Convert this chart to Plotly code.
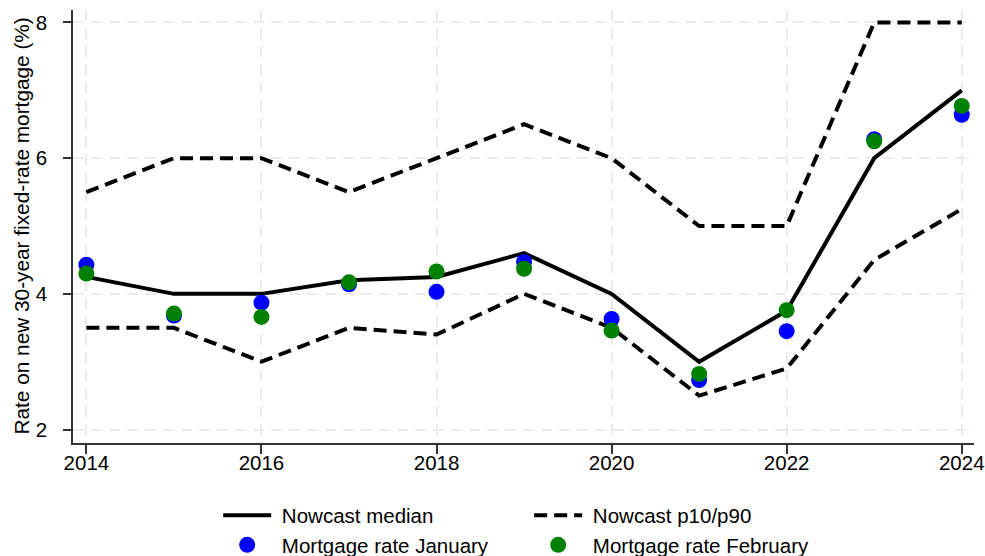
import plotly.graph_objects as go

# Survey years
years = [2014, 2015, 2016, 2017, 2018, 2019, 2020, 2021, 2022, 2023, 2024]

# Nowcast distribution of the 30-year fixed mortgage rate (%)
nowcast_median = [4.25, 4.0, 4.0, 4.2, 4.25, 4.6, 4.0, 3.0, 3.75, 6.0, 7.0]
nowcast_p90 = [5.5, 6.0, 6.0, 5.5, 6.0, 6.5, 6.0, 5.0, 5.0, 8.0, 8.0]
nowcast_p10 = [3.5, 3.5, 3.0, 3.5, 3.4, 4.0, 3.5, 2.5, 2.9, 4.5, 5.25]

# Realised mortgage rates (%)
rate_january = [4.43, 3.68, 3.87, 4.14, 4.03, 4.47, 3.63, 2.73, 3.45, 6.28, 6.64]
rate_february = [4.30, 3.71, 3.66, 4.17, 4.33, 4.37, 3.46, 2.82, 3.76, 6.25, 6.77]

x_ticks = [2014, 2016, 2018, 2020, 2022, 2024]
y_ticks = [2, 4, 6, 8]

FONT = "Liberation Sans, Arial, sans-serif"
DASH = "13px,7px"
PAD = "\u00a0"  # small gap between legend symbol and label

fig = go.Figure()

fig.add_trace(go.Scatter(
    x=years, y=nowcast_median, mode="lines", name=PAD + "Nowcast median",
    line=dict(color="black", width=4),
))
fig.add_trace(go.Scatter(
    x=years, y=nowcast_p90, mode="lines", name=PAD + "Nowcast p10/p90",
    legendgroup="band", line=dict(color="black", width=4, dash=DASH),
))
fig.add_trace(go.Scatter(
    x=years, y=nowcast_p10, mode="lines", name=PAD + "Nowcast p10/p90",
    legendgroup="band", showlegend=False,
    line=dict(color="black", width=4, dash=DASH),
))
fig.add_trace(go.Scatter(
    x=years, y=rate_january, mode="markers", name=PAD + "Mortgage rate January",
    marker=dict(color="#0000ff", size=16, line=dict(width=0)),
))
fig.add_trace(go.Scatter(
    x=years, y=rate_february, mode="markers", name=PAD + "Mortgage rate February",
    marker=dict(color="#008000", size=16, line=dict(width=0)),
))

axis_style = dict(
    showgrid=True, gridcolor="#ebebeb", gridwidth=2, griddash="11px,7px",
    ticks="outside", tickwidth=1.5, tickcolor="#333333",
    showline=True, linecolor="#333333", linewidth=1.5,
    zeroline=False, automargin=False,
    tickfont=dict(size=20.5, color="black"),
)

fig.update_xaxes(
    range=[2013.847, 2024.14], tickvals=x_ticks, ticklen=9,
    ticklabelstandoff=-8, **axis_style,
)
fig.update_yaxes(
    range=[1.802, 8.184], tickvals=y_ticks, ticklen=8,
    ticklabelstandoff=12, **axis_style,
)

# Vertical axis title
fig.add_annotation(
    text="Rate on new 30-year fixed-rate mortgage (%)",
    xref="paper", yref="paper", x=-0.0577, y=0.5,
    xanchor="center", yanchor="middle", textangle=-90, showarrow=False,
    font=dict(size=20.8, color="black"),
)

fig.update_layout(
    width=985, height=556,
    margin=dict(l=73, r=10.5, t=10, b=113),
    paper_bgcolor="white", plot_bgcolor="white",
    font=dict(family=FONT, color="black"),
    showlegend=True,
    legend=dict(
        orientation="h", xref="container", yref="container",
        x=0.2215, xanchor="left", y=0.109, yanchor="top",
        entrywidth=248, itemwidth=48, font=dict(size=20.5),
        bgcolor="rgba(0,0,0,0)", tracegroupgap=0,
    ),
)

fig.write_html("out.html")
